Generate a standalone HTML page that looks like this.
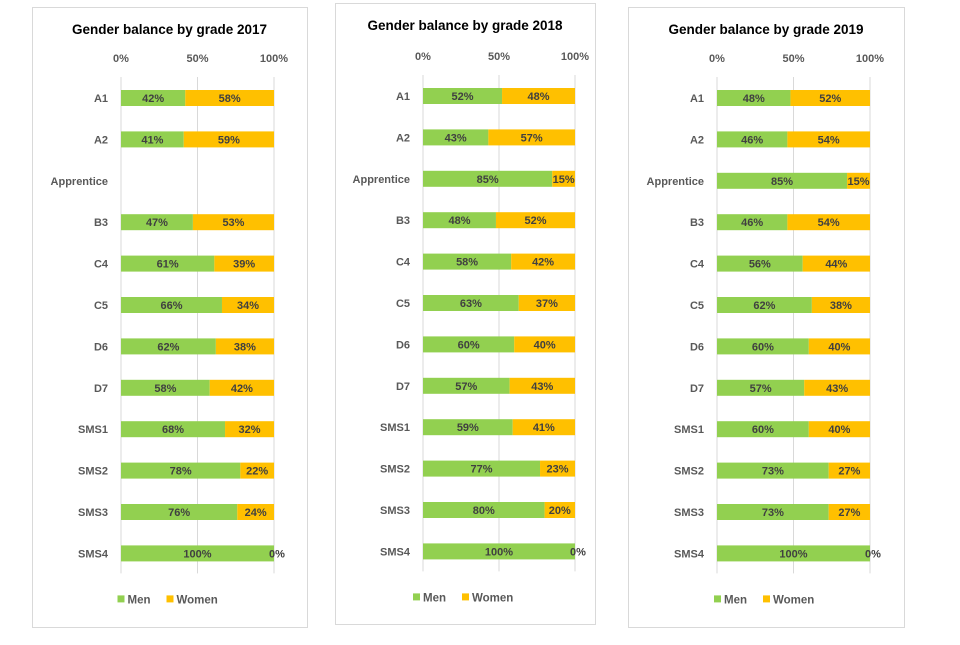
<!DOCTYPE html>
<html><head><meta charset="utf-8"><style>
body{margin:0;background:#fff;width:960px;height:640px;overflow:hidden;font-family:"Liberation Sans",sans-serif}
svg text{font-family:"Liberation Sans",sans-serif;font-weight:bold}
</style></head><body>
<svg id="c" width="960" height="640"></svg>
<script>
const grades=["A1","A2","Apprentice","B3","C4","C5","D6","D7","SMS1","SMS2","SMS3","SMS4"];
const years=["2017","2018","2019"];
const men2017=[42,41,null,47,61,66,62,58,68,78,76,100];
const women2017=[58,59,null,53,39,34,38,42,32,22,24,0];
const men2018=[52,43,85,48,58,63,60,57,59,77,80,100];
const women2018=[48,57,15,52,42,37,40,43,41,23,20,0];
const men2019=[48,46,85,46,56,62,60,57,60,73,73,100];
const women2019=[52,54,15,54,44,38,40,43,40,27,27,0];
const ticks=[0,50,100];
const menSeries=[men2017,men2018,men2019];
const womenSeries=[women2017,women2018,women2019];
const panels=[{bx:32,by:7,bw:275,bh:620,px:121,pw:153,top:98,dy:41.4},
{bx:335,by:3,bw:260,bh:621,px:423,pw:152,top:96,dy:41.4},
{bx:628,by:7,bw:276,bh:620,px:717,pw:153,top:98,dy:41.4}];
const svg=document.getElementById('c');const NS="http://www.w3.org/2000/svg";
function mk(t,a,txt){const e=document.createElementNS(NS,t);for(const k in a)e.setAttribute(k,a[k]);if(txt!=null)e.textContent=txt;svg.appendChild(e);return e;}
panels.forEach((p,i)=>{
 const X=v=>p.px+v/100*p.pw;const Y=j=>p.top+j*p.dy;
 let e=mk('rect',{x:p.bx+.5,y:p.by+.5,width:p.bw,height:p.bh,fill:'#fff',stroke:'#d9d9d9'});
 
 
 e=mk('text',{x:p.bx+p.bw/2,y:p.by+27,'text-anchor':'middle','font-size':13.5,fill:'#000'},'Gender balance by grade '+years[i]);
 
 
 ticks.forEach(t=>{
  e=mk('line',{x1:X(t),x2:X(t),y1:p.top-21,y2:Y(11)+20,stroke:'#d9d9d9'});
  
  
  e=mk('text',{x:X(t),y:p.top-36,'text-anchor':'middle','font-size':11,fill:'#595959'},t+'%');
  
  
 });
 grades.forEach((g,j)=>{
  e=mk('text',{x:p.px-13,y:Y(j)+4,'text-anchor':'end','font-size':11,fill:'#595959'},g);
  
  
  const m=menSeries[i][j],w=womenSeries[i][j];
  if(m==null)return;
  e=mk('rect',{x:X(0),y:Y(j)-8,width:X(m)-X(0),height:16,fill:'#92d050'});
  
  
  e=mk('rect',{x:X(m),y:Y(j)-8,width:X(m+w)-X(m),height:16,fill:'#ffc000'});
  
  
  e=mk('text',{x:(X(0)+X(m))/2,y:Y(j)+4,'text-anchor':'middle','font-size':11,fill:'#404040'},m+'%');
  
  
  e=mk('text',{x:w<5?X(m+w)+3:(X(m)+X(m+w))/2,y:Y(j)+4,'text-anchor':w<5?'middle':'middle','font-size':11,fill:'#404040'},w+'%');
  
  
 });
 const ly=Y(11)+51,cx=p.bx+p.bw/2;
 e=mk('rect',{x:cx-52,y:ly-9,width:7,height:7,fill:'#92d050'});
 
 
 e=mk('text',{x:cx-42,y:ly-1,'font-size':11.5,fill:'#595959'},'Men');
 
 
 e=mk('rect',{x:cx-3,y:ly-9,width:7,height:7,fill:'#ffc000'});
 
 
 e=mk('text',{x:cx+7,y:ly-1,'font-size':11.5,fill:'#595959'},'Women');
 
 
});
</script>
</body></html>
